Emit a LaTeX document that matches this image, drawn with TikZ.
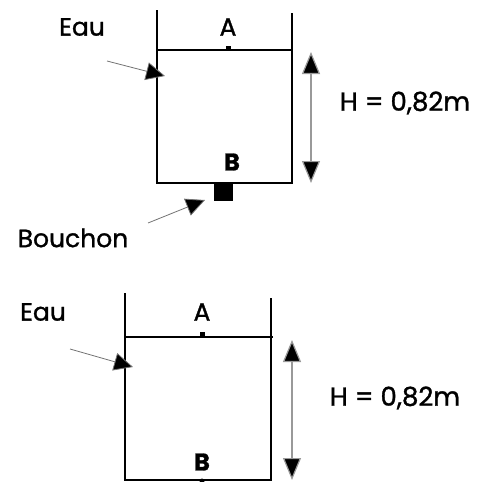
\documentclass[tikz,border=0pt]{standalone}
\usepackage{fontspec}
\setmainfont{Poppins}[FakeBold=1.2]
\usetikzlibrary{arrows.meta}
\begin{document}
\begin{tikzpicture}[x=1pt,y=-1pt,
  wall/.style={line width=1.8pt,black},
  lbl/.style={inner sep=0pt,font=\fontsize{25}{25}\selectfont},
  bold/.style={inner sep=0pt,font=\fontsize{24}{24}\selectfont\bfseries},
  big/.style={inner sep=0pt,font=\fontsize{26}{26}\selectfont},
  ptr/.style={draw=black!55,line width=0.8pt,-{Triangle[length=19pt,width=18pt,fill=black]}},
  dim/.style={draw=black!40,line width=1.2pt,{Triangle[length=22pt,width=18pt,fill=black]}-{Triangle[length=22pt,width=18pt,fill=black]}},
  plug/.style={fill=black,draw=none}]
\useasboundingbox (0,0) rectangle (482,482);
% ---------- top tank ----------
\coordinate (tl) at (157,10);
\coordinate (tr) at (292,13);
\coordinate (sl) at (157,50);
\coordinate (sr) at (293,50);
\coordinate (bl) at (157,183);
\coordinate (br) at (292,183);
\draw[wall] (tl) -- (bl) -- (br) -- (tr);
\draw[wall] (sl) -- (sr);
\fill[plug] (225.5,45.5) rectangle (231,50);
\fill[plug] (214,183) rectangle (233,201);
\node[lbl] (A1) at (228,27) {A};
\node[bold] (B1) at (232,162) {B};
\node[lbl] (eau1) at (82,27) {Eau};
\node[lbl] (bouchon) at (73,238) {Bouchon};
\node[big] (H1) at (405,103) {H = 0,82m};
\coordinate (e1s) at (107,61);
\coordinate (e1t) at (165,76);
\draw[ptr] (e1s) -- (e1t);
\coordinate (b1s) at (148,223);
\coordinate (b1t) at (205,200);
\draw[ptr] (b1s) -- (b1t);
\coordinate (d1t) at (311,52);
\coordinate (d1b) at (311,183);
\draw[dim] (d1t) -- (d1b);
% ---------- bottom tank ----------
\coordinate (tl2) at (125,293);
\coordinate (tr2) at (271,298);
\coordinate (sl2) at (125,337);
\coordinate (sr2) at (273,337);
\coordinate (bl2) at (125,480);
\coordinate (br2) at (271,480);
\draw[wall] (tl2) -- (bl2) -- (br2) -- (tr2);
\draw[wall] (sl2) -- (sr2);
\fill[plug] (199.5,332) rectangle (205,337);
\fill[plug] (202,481) circle (2.5pt);
\node[lbl] (A2) at (202,312) {A};
\node[bold] (B2) at (202,462) {B};
\node[lbl] (eau2) at (43,312) {Eau};
\node[big] (H2) at (395,398) {H = 0,82m};
\coordinate (e2s) at (70,349);
\coordinate (e2t) at (133,367);
\draw[ptr] (e2s) -- (e2t);
\coordinate (d2t) at (292,340);
\coordinate (d2b) at (292,480);
\draw[dim] (d2t) -- (d2b);
\end{tikzpicture}
\end{document}
